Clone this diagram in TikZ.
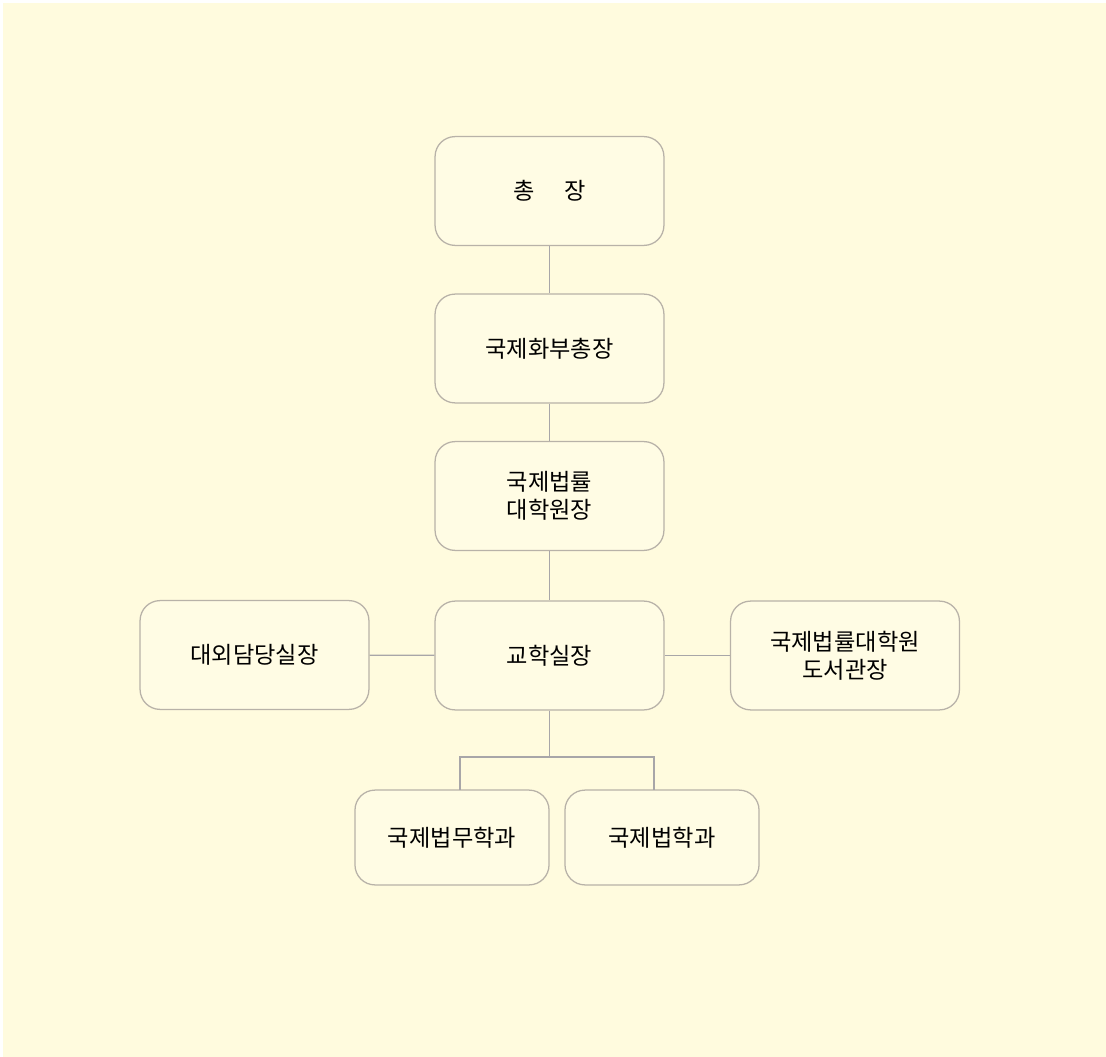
\documentclass[tikz,border=0pt]{standalone}
\usepackage{fontspec}
\usepackage{xcolor}
\usepackage{tikz}
\setmainfont{Noto Sans CJK KR}
\definecolor{paper}{HTML}{FFFBDE}
\definecolor{boxfill}{HTML}{FFFCE4}
\definecolor{edge}{HTML}{B8B2A8}
\definecolor{wire}{HTML}{A8A6A8}
\begin{document}
\begin{tikzpicture}[x=0.025cm,y=-0.025cm,
	box/.style={draw=edge,fill=boxfill,line width=0.9pt,rounded corners=0.5cm,
		minimum width=5.72cm,minimum height=2.72cm,align=center,
		font=\fontsize{16.5}{20}\selectfont},
	small/.style={box,minimum width=4.85cm,minimum height=2.37cm},
	wire/.style={draw=wire,line width=0.8pt}]
	\fill[white] (0,0) rectangle (1106,1057);
	\fill[paper] (3,3) rectangle (1106,1057);
	
	\node[box] (chong) at (549.5,191) {총\hspace{1.3em}장};
	\node[box] (buchong) at (549.5,348.5) {국제화부총장};
	\node[box] (won) at (549.5,496) {국제법률\\대학원장};
	\node[box] (gyohak) at (549.5,655.5) {교학실장};
	\node[box] (daewoe) at (254.5,655) {대외담당실장};
	\node[box] (lib) at (845,655.5) {국제법률대학원\\도서관장};
	\node[small] (beopmu) at (452,837.5) {국제법무학과};
	\node[small] (beophak) at (662,837.5) {국제법학과};
	
	\coordinate (fork) at (549.5,757);
	\draw[wire] (chong) -- (buchong);
	\draw[wire] (buchong) -- (won);
	\draw[wire] (won) -- (gyohak);
	\draw[wire] (daewoe) -- (gyohak);
	\draw[wire] (gyohak) -- (lib);
	\draw[wire] (gyohak) -- (fork);
	\draw[wire] (fork) -| (460,790);
	\draw[wire] (fork) -| (654,790);
\end{tikzpicture}
\end{document}
